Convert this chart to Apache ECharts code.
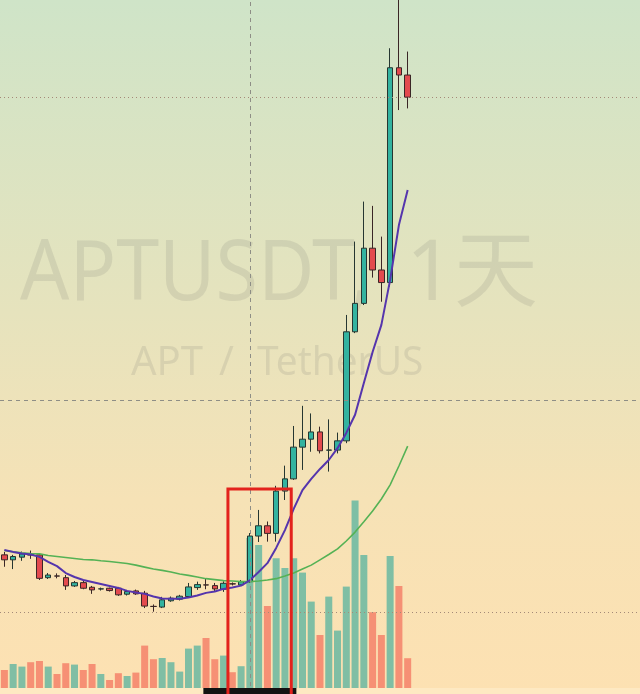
<!DOCTYPE html>
<html><head><meta charset="utf-8">
<script src="https://cdn.jsdelivr.net/npm/echarts@6/dist/echarts.min.js"></script>
<style>html,body{margin:0;padding:0;background:#fde1b2;overflow:hidden}#c{width:640px;height:694px}</style>
</head><body><div id="c"></div>
<script>
// ---- data (APTUSDT daily) ----
const startDate = '2022-12-11';
const totalSlots = 73; // 47 candles + empty future slots
const openVals  = [4.21,4.06,4.14,4.212,4.21,3.52,3.572,3.52,3.27,3.37,3.23,3.178,3.20,3.20,3.02,3.12,3.05,2.652,2.63,2.82,2.87,2.95,3.22,3.302,3.28,3.17,3.335,3.30,3.40,4.78,5.09,4.86,6.14,6.51,7.47,7.71,7.93,7.378,7.38,7.66,10.96,11.82,13.49,12.83,12.45,18.95,18.73];
const closeVals = [4.06,4.16,4.24,4.208,3.50,3.60,3.568,3.27,3.37,3.20,3.15,3.182,3.13,3.00,3.10,3.03,2.66,2.648,2.85,2.90,2.96,3.24,3.31,3.298,3.18,3.35,3.33,3.40,4.78,5.09,4.86,6.14,6.51,7.47,7.71,7.93,7.36,7.382,7.66,10.96,11.82,13.49,12.83,12.45,18.95,18.73,18.06];
const lowVals   = [3.85,3.78,4.03,4.09,3.45,3.48,3.50,3.15,3.24,3.17,3.03,3.13,3.10,2.97,2.98,3.00,2.60,2.49,2.60,2.79,2.83,2.92,3.15,3.17,3.12,3.09,3.285,3.27,3.36,4.60,4.61,4.61,5.87,6.48,6.78,7.33,7.28,6.73,7.28,7.59,10.92,11.77,12.60,11.87,12.33,17.67,17.72];
const highVals  = [4.30,4.21,4.31,4.34,4.26,3.66,3.65,3.60,3.42,3.43,3.27,3.22,3.22,3.24,3.15,3.16,3.12,2.71,2.94,2.95,3.00,3.36,3.40,3.50,3.36,3.41,3.375,3.45,4.87,5.57,5.22,6.30,6.91,8.11,8.72,8.49,8.09,8.31,7.91,11.47,13.69,14.90,14.77,13.84,19.54,21.4,19.44];
const volumes   = [9,12,10.7,12.9,13.5,10.7,7,12.4,11.7,9,12,7,4,7.4,6,7.7,21.2,14.4,15,12.9,8.2,19.7,21.2,25,14.4,16.2,7.9,10.9,75,71.5,41,64.9,60,64.9,57.7,43.2,26.5,45.7,28.7,50.7,93.7,66.5,37.9,26.5,66,51,14.9];
const maShort   = [4.36,4.30,4.25,4.22,4.15,4.00,3.87,3.66,3.54,3.45,3.39,3.33,3.27,3.21,3.12,3.07,3.03,2.95,2.89,2.88,2.88,2.92,2.98,3.06,3.10,3.18,3.22,3.28,3.44,3.69,3.96,4.42,4.96,5.60,6.17,6.51,6.81,7.08,7.44,7.90,8.45,9.41,10.35,11.17,12.53,14.19,15.25];
const maLong    = [4.34,4.30,4.27,4.25,4.24,4.19,4.16,4.13,4.10,4.07,4.06,4.03,4.01,3.98,3.95,3.90,3.84,3.78,3.74,3.69,3.63,3.59,3.54,3.49,3.46,3.43,3.42,3.40,3.40,3.42,3.45,3.49,3.57,3.66,3.78,3.90,4.06,4.22,4.39,4.63,4.90,5.21,5.54,5.90,6.33,6.90,7.50];
// annotations
const crossIdx = 28, crossPrice = 8.9;
const lowerRefPrice = 2.48;
const boxStartIdx = 25.5, boxEndIdx = 32.72, boxTopPrice = 6.2;

const categories = [];
{ const d0 = new Date(startDate + 'T00:00:00Z');
  for (let i = 0; i < totalSlots; i++) { const d = new Date(d0.getTime() + i*86400000); categories.push(d.toISOString().slice(0,10)); } }

const candleData = openVals.map((o,i)=>[o, closeVals[i], lowVals[i], highVals[i]]);
const volData = volumes.map((v,i)=>({value:v, itemStyle:{color: closeVals[i] >= openVals[i] ? 'rgba(38,166,154,0.58)' : 'rgba(242,90,75,0.6)'}}));
const lastClose = closeVals[closeVals.length-1];

const W = 640, H = 694;
const band = 8.84;
const gridLeft = 1.7 - band/2;
const gridW = band*totalSlots;

const chart = echarts.init(document.getElementById('c'), null, {renderer:'canvas', width:W, height:H});
const dashed = {type:[4,4], color:'#8e8e86', width:1};
const dotted = {type:[1,3], color:'#a48a78', width:1};
chart.setOption({
  animation:false,
  backgroundColor:{type:'linear',x:0,y:0,x2:0,y2:1,colorStops:[
    {offset:0,color:'#cfe4c8'},{offset:0.45,color:'#e6e3bd'},{offset:0.72,color:'#f6e2b6'},{offset:1,color:'#fde1b2'}]},
  grid:[
    {left:gridLeft, width:gridW, top:0, height:H},
    {left:gridLeft, width:gridW, top:0, height:688}
  ],
  xAxis:[
    {type:'category', data:categories, gridIndex:0, boundaryGap:true, show:false},
    {type:'category', data:categories, gridIndex:1, boundaryGap:true, show:false}
  ],
  yAxis:[
    {type:'value', gridIndex:0, min:0, max:21, show:false},
    {type:'value', gridIndex:1, min:0, max:344, show:false}
  ],
  series:[
    {type:'bar', name:'Volume', xAxisIndex:1, yAxisIndex:1, data:volData, barWidth:'80%', z:1, silent:true},
    {type:'candlestick', name:'APTUSDT', xAxisIndex:0, yAxisIndex:0, data:candleData, barWidth:6, z:2,
      itemStyle:{color:'#33b3a0', color0:'#e34a4e', borderColor:'#263631', borderColor0:'#3a2626', borderWidth:1}},
    {type:'line', name:'MA long', data:maLong, showSymbol:false, z:3, lineStyle:{color:'#55b255', width:1.6}},
    {type:'line', name:'MA short', data:maShort, showSymbol:false, z:4, lineStyle:{color:'#5535ad', width:2},
      markLine:{silent:true, symbol:['none','none'], label:{show:false}, animation:false,
        data:[
          {xAxis:categories[crossIdx], lineStyle:dashed},
          {yAxis:crossPrice, lineStyle:dashed},
          {yAxis:lastClose, lineStyle:dotted},
          {yAxis:lowerRefPrice, lineStyle:dotted}
        ]}}
  ]
});

const px = i => chart.convertToPixel({xAxisIndex:0}, i);
const py = v => chart.convertToPixel({yAxisIndex:0}, v);
const bx0 = px(Math.floor(boxStartIdx)) + (boxStartIdx - Math.floor(boxStartIdx))*(px(1)-px(0));
const bx1 = px(Math.floor(boxEndIdx)) + (boxEndIdx - Math.floor(boxEndIdx))*(px(1)-px(0));
const by0 = py(boxTopPrice);
const cx = px(crossIdx);
const wmFill = 'rgba(120,120,115,0.16)';
chart.setOption({
  graphic:[
    {type:'text', x:20, y:276, scaleX:0.92, z:0, silent:true, style:{text:'APTUSDT,', font:'84px "Noto Sans"', fill:wmFill, textAlign:'left', textVerticalAlign:'middle'}},
    {type:'text', x:406, y:276, z:0, silent:true, style:{text:'1天', font:'84px "Noto Sans", "Noto Sans CJK SC"', fill:wmFill, textAlign:'left', textVerticalAlign:'middle'}},
    {type:'text', x:131, y:364, z:0, silent:true, style:{text:'APT', font:'40px "Noto Sans"', fill:wmFill, textAlign:'left', textVerticalAlign:'middle'}},
    {type:'text', x:219, y:364, z:0, silent:true, style:{text:'/', font:'40px "Noto Sans"', fill:wmFill, textAlign:'left', textVerticalAlign:'middle'}},
    {type:'text', x:257, y:364, scaleX:0.97, z:0, silent:true, style:{text:'TetherUS', font:'40px "Noto Sans"', fill:wmFill, textAlign:'left', textVerticalAlign:'middle'}},
    {type:'rect', z:50, silent:true, shape:{x:0, y:688, width:W, height:6}, style:{fill:'rgba(255,238,205,0.6)'}},
    {type:'rect', z:60, silent:true, shape:{x:cx-46.5, y:688, width:93, height:8}, style:{fill:'#131313'}},
    {type:'rect', z:100, silent:true, shape:{x:bx0, y:by0, width:bx1-bx0, height:H-by0+10}, style:{fill:'none', stroke:'#e3221c', lineWidth:3}}
  ]
});
</script></body></html>
